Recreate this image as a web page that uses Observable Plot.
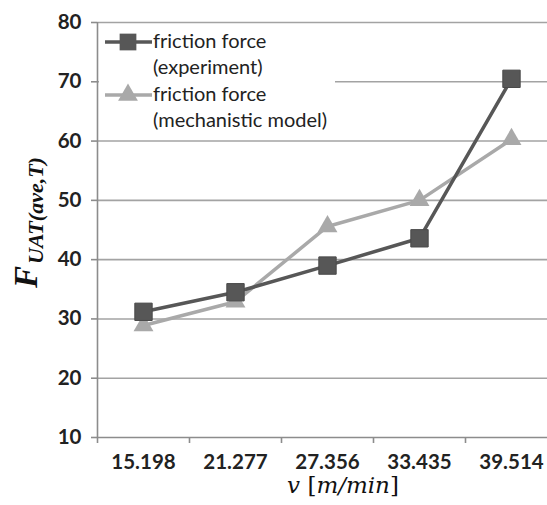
<!DOCTYPE html>
<html>
<head>
<meta charset="utf-8">
<script src="https://cdn.jsdelivr.net/npm/d3@7"></script>
<script src="https://cdn.jsdelivr.net/npm/@observablehq/plot@0.6"></script>
<style>
  body { margin: 0; background: #fff; }
  #chart svg { overflow: visible; }
</style>
</head>
<body>
<div id="chart"></div>
<script>
// Cutting speed categories (m/min) and the averaged friction force per speed
const speeds = ["15.198", "21.277", "27.356", "33.435", "39.514"];
const experiment = [31.2, 34.5, 39.0, 43.6, 70.5];
const model = [28.9, 32.9, 45.6, 50.0, 60.3];
const yTicks = [10, 20, 30, 40, 50, 60, 70, 80];
const legendLabels = [
  ["friction force", "(experiment)"],
  ["friction force", "(mechanistic model)"]
];

const darkGray = "#575757";
const lightGray = "#a9a9a9";
const gridGray = "#a3a3a3";
const axisGray = "#8c8c8c";
const textColor = "#222";

const expRows = speeds.map((s, i) => ({i, value: experiment[i]}));
const modelRows = speeds.map((s, i) => ({i, value: model[i]}));
const xPos = d => d.i + 0.5;

const chart = Plot.plot({
  width: 547,
  height: 505,
  marginTop: 22,
  marginBottom: 68,
  marginLeft: 97,
  marginRight: 0,
  style: {fontFamily: "Lato, sans-serif", background: "#fff"},
  x: {domain: [0, speeds.length], range: [97, 557]},
  y: {domain: [10, 80]},
  marks: [
    Plot.ruleY(yTicks.slice(1), {stroke: gridGray, strokeWidth: 1.6}),
    Plot.ruleY([10], {stroke: axisGray, strokeWidth: 1.6}),
    Plot.ruleX([0], {y1: 10, y2: 80, stroke: axisGray, strokeWidth: 1.6}),
    // category boundary ticks
    Plot.axisX({ticks: d3.range(0, speeds.length + 1), tickSize: 6, tickFormat: () => "",
      stroke: axisGray, strokeWidth: 1.6, label: null}),
    // category labels centred in each band
    Plot.axisX({ticks: d3.range(0.5, speeds.length), tickSize: 0, tickPadding: 17,
      tickFormat: d => speeds[Math.floor(d)], fill: textColor,
      fontSize: 20.5, fontWeight: "bold", label: null}),
    Plot.axisY({ticks: yTicks, tickSize: 6, tickPadding: 10, stroke: axisGray, strokeWidth: 1.6,
      fill: textColor, fontSize: 20.5, fontWeight: "bold", label: null}),
    Plot.line(modelRows, {x: xPos, y: "value", stroke: lightGray, strokeWidth: 3.5}),
    Plot.line(expRows, {x: xPos, y: "value", stroke: darkGray, strokeWidth: 3.5}),
    Plot.dot(modelRows, {x: xPos, y: "value", symbol: "triangle", r: 7.4, fill: lightGray, stroke: "none"}),
    Plot.dot(expRows, {x: xPos, y: "value", symbol: "square", r: 9.8, fill: darkGray, stroke: "#4a4a4a", strokeWidth: 1})
  ]
});

document.getElementById("chart").append(chart);
const svg = d3.select(chart);

// legend box in the upper-left corner of the plot area
const legend = svg.append("g").attr("font-family", "Lato, sans-serif").attr("font-size", 20)
  .attr("fill", textColor).attr("text-anchor", "start");
legend.append("rect").attr("x", 99).attr("y", 27).attr("width", 236).attr("height", 106).attr("fill", "#fff");
const legendStyles = [
  {color: darkGray, symbol: d3.symbolSquare, size: 280, y: 42},
  {color: lightGray, symbol: d3.symbolTriangle, size: 170, y: 95}
];
legendStyles.forEach((s, k) => {
  legend.append("line").attr("x1", 105).attr("x2", 152).attr("y1", s.y).attr("y2", s.y)
    .attr("stroke", s.color).attr("stroke-width", 3.5);
  legend.append("path").attr("d", d3.symbol(s.symbol, s.size)())
    .attr("transform", `translate(128,${s.y})`).attr("fill", s.color);
  legend.append("text").attr("x", 153).attr("y", s.y + 6).text(legendLabels[k][0]);
  legend.append("text").attr("x", 153).attr("y", s.y + 32).text(legendLabels[k][1]);
});

// y-axis title: F with subscript UAT(ave,T)
const yTitle = svg.append("text")
  .attr("transform", "translate(37,288) rotate(-90)")
  .attr("text-anchor", "start")
  .attr("font-family", "'Liberation Serif', serif")
  .attr("font-style", "italic").attr("font-weight", "bold").attr("fill", "#111");
yTitle.append("tspan").attr("font-size", 33).text("F");
yTitle.append("tspan").attr("font-size", 22).attr("dx", 2).attr("dy", 6).text("UAT(ave,T)");

// x-axis title: v [m/min]
const xTitle = svg.append("text")
  .attr("x", 343).attr("y", 493).attr("text-anchor", "middle")
  .attr("font-family", "'DejaVu Serif', serif").attr("font-size", 23).attr("fill", "#111");
xTitle.append("tspan").attr("font-style", "italic").text("v");
xTitle.append("tspan").text(" [");
xTitle.append("tspan").attr("font-style", "italic").text("m/min");
xTitle.append("tspan").text("]");
</script>
</body>
</html>
